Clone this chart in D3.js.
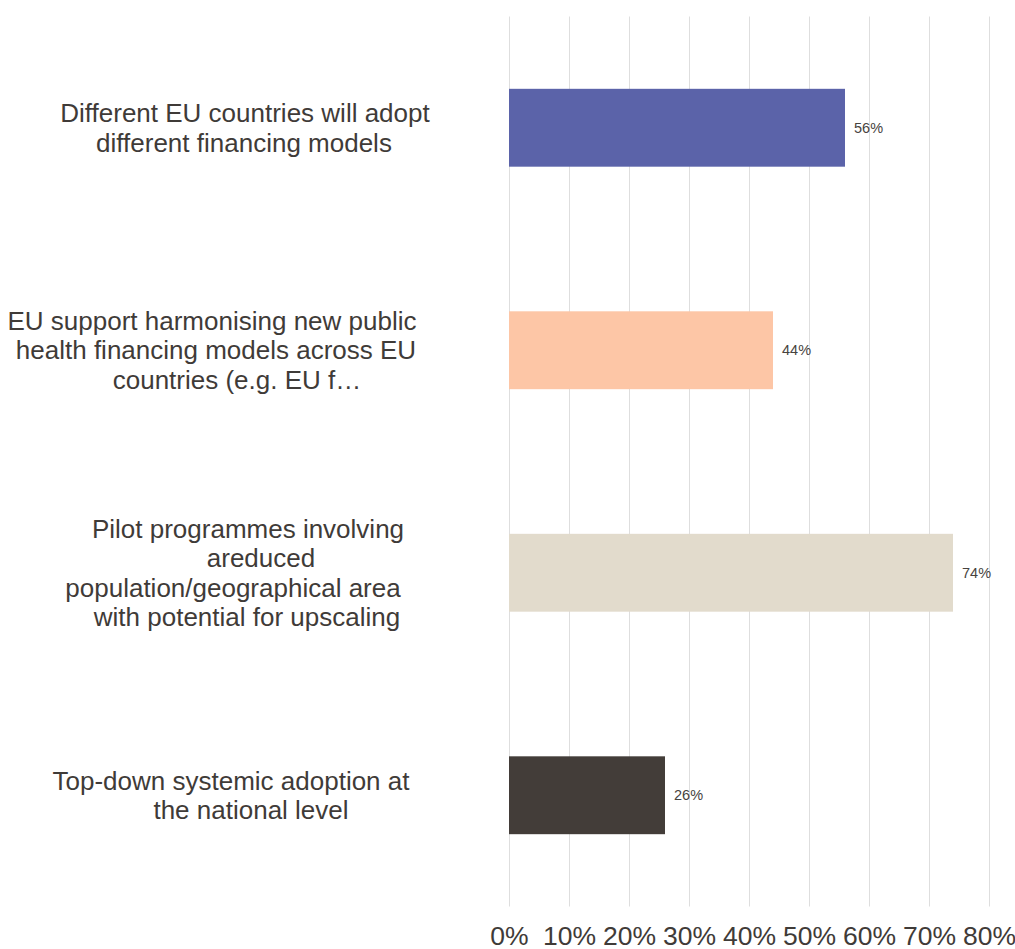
<!DOCTYPE html>
<html>
<head>
<meta charset="utf-8">
<script src="https://cdn.jsdelivr.net/npm/d3@7"></script>
<style>
  html, body { margin: 0; padding: 0; background: #ffffff; }
  svg { display: block; font-family: "Liberation Sans", Arial, sans-serif; }
</style>
</head>
<body>
<svg id="chart" width="1015" height="949"></svg>
<script>
// Survey answers: share of respondents choosing each option
const categories = [
  "Different EU countries will adopt different financing models",
  "EU support harmonising new public health financing models across EU countries (e.g. EU f…",
  "Pilot programmes involving areduced population/geographical area with potential for upscaling",
  "Top-down systemic adoption at the national level"
];
// Category labels as they wrap on the left of the bars
const categoryLines = [
  ["Different EU countries will adopt", "different financing models"],
  ["EU support harmonising new public", "health financing models across EU", "countries (e.g. EU f…"],
  ["Pilot programmes involving", "areduced", "population/geographical area", "with potential for upscaling"],
  ["Top-down systemic adoption at", "the national level"]
];
const values = [0.56, 0.44, 0.74, 0.26];
const valueLabels = ["56%", "44%", "74%", "26%"];
const tickValues = [0, 0.1, 0.2, 0.3, 0.4, 0.5, 0.6, 0.7, 0.8];
const tickLabels = ["0%", "10%", "20%", "30%", "40%", "50%", "60%", "70%", "80%"];

// Styling
const barColors = ["#5b63a9", "#fdc6a6", "#e2dbcc", "#433d39"];
const textColor = "#3f3b38";
const gridColor = "#dedede";
// Horizontal nudge of individual label lines (px)
const lineNudge = [
  [-3, -4],
  [-36, -32, -11],
  [0, 13, -15, -1],
  [-17, 3]
];

const svg = d3.select("#chart");
const plot = { left: 509, right: 989, top: 16.5, bottom: 906.5 };
const labelCenter = 248;

const x = d3.scaleLinear().domain([0, 0.8]).range([plot.left, plot.right]);
const y = d3.scaleBand()
  .domain(categories)
  .range([plot.top, plot.bottom])
  .paddingInner(0.65)
  .paddingOuter(0.325);

// Vertical gridlines
svg.append("g")
  .selectAll("line")
  .data(tickValues)
  .join("line")
  .attr("x1", d => Math.round(x(d)) + 0.5)
  .attr("x2", d => Math.round(x(d)) + 0.5)
  .attr("y1", plot.top)
  .attr("y2", plot.bottom)
  .attr("stroke", gridColor)
  .attr("stroke-width", 1);

// Bottom axis labels
const xAxis = d3.axisBottom(x)
  .tickValues(tickValues)
  .tickFormat((d, i) => tickLabels[i])
  .tickSize(0)
  .tickPadding(0);
const axisG = svg.append("g")
  .attr("transform", `translate(0, ${plot.bottom})`)
  .call(xAxis);
axisG.select(".domain").remove();
axisG.selectAll("text")
  .attr("y", 38)
  .attr("dy", 0)
  .attr("fill", textColor)
  .style("font-size", "26.5px")
  .style("font-family", "'Liberation Sans', Arial, sans-serif");

// Bars
svg.append("g")
  .selectAll("rect")
  .data(values)
  .join("rect")
  .attr("x", x(0))
  .attr("y", (d, i) => y(categories[i]))
  .attr("width", d => x(d) - x(0))
  .attr("height", y.bandwidth())
  .attr("fill", (d, i) => barColors[i]);

// Value labels at bar ends
svg.append("g")
  .selectAll("text")
  .data(values)
  .join("text")
  .attr("x", d => x(d) + 9)
  .attr("y", (d, i) => y(categories[i]) + y.bandwidth() / 2)
  .attr("dy", "0.35em")
  .attr("fill", "#474340")
  .style("font-size", "14.5px")
  .text((d, i) => valueLabels[i]);

// Category labels, centered on each band
const lineHeight = 29.5;
const catG = svg.append("g")
  .selectAll("text")
  .data(categories)
  .join("text")
  .attr("fill", textColor)
  .attr("text-anchor", "middle")
  .style("font-size", "26px");

catG.each(function(cat, i) {
  const lines = categoryLines[i];
  const cy = y(cat) + y.bandwidth() / 2;
  const startY = cy - (lines.length - 1) * lineHeight / 2;
  d3.select(this).selectAll("tspan")
    .data(lines)
    .join("tspan")
    .attr("x", (l, j) => labelCenter + lineNudge[i][j])
    .attr("y", (l, j) => startY + j * lineHeight)
    .attr("dy", "0.35em")
    .text(l => l);
});
</script>
</body>
</html>
